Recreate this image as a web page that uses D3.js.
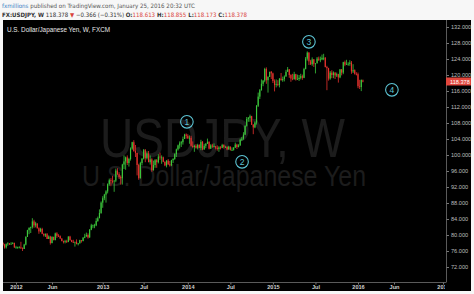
<!DOCTYPE html>
<html><head><meta charset="utf-8">
<script src="https://cdn.jsdelivr.net/npm/d3@7"></script>
<style>html,body{margin:0;padding:0;background:#f7f7f7;overflow:hidden} svg{display:block}</style>
</head><body><svg id="c" width="474" height="294"></svg>
<script>
// ---- DATA ----
const firstWeek = "2011-11-07";
const lastWeek = "2016-01-25";
const opens = [78.0,77.6,76.9,77.7,77.9,77.6,77.8,78.0,
76.9,76.9,76.9,76.9,76.7,76.5,77.6,79.5,81.2,81.8,82.0,83.4,
82.4,82.9,81.7,80.9,81.5,80.3,79.9,80.2,79.0,79.6,
78.0,79.5,78.7,80.4,79.8,79.7,79.1,78.5,78.3,78.5,
78.3,79.6,78.7,78.3,78.1,78.3,77.7,77.9,78.7,78.5,
79.3,79.6,80.0,79.4,81.3,82.4,82.4,82.4,83.5,84.2,85.5,
88.1,89.2,90.1,90.9,92.7,93.7,93.5,93.4,93.6,96.1,95.2,94.5,
94.2,97.6,98.4,99.4,98.0,99.0,101.6,103.2,101.0,100.5,97.5,94.2,98.0,
99.1,101.2,99.2,100.4,98.2,98.9,96.2,97.5,98.7,98.2,99.6,99.4,99.4,98.3,
97.4,98.6,97.7,97.4,98.7,99.0,100.2,101.4,102.4,102.9,103.2,104.0,105.1,
104.8,104.2,104.3,102.3,102.0,102.3,101.8,102.5,101.8,103.3,101.4,102.3,102.8,
103.3,101.6,102.4,102.1,102.2,101.8,101.5,101.9,101.8,102.5,102.0,102.0,101.4,
102.1,101.3,101.3,101.8,102.6,102.0,102.4,103.8,104.1,105.1,107.3,109.0,109.3,
109.7,107.6,106.9,108.1,112.3,114.6,116.2,117.8,118.6,121.5,118.7,119.5,120.8,
120.4,118.5,117.5,117.7,117.5,119.1,118.7,119.0,119.6,120.8,121.4,120.0,119.1,
119.0,120.2,118.9,119.0,119.3,119.7,119.3,121.5,124.1,125.6,123.4,122.7,123.9,
122.8,122.9,124.1,123.8,123.9,124.3,124.3,122.0,121.7,119.1,120.6,120.0,120.6,
119.9,120.2,119.4,121.4,120.6,123.2,122.6,122.8,122.8,123.1,120.9,121.2,120.3,
120.2,117.2,117.0,118.613];
const highs = [78.2,77.8,77.9,78.2,78.0,78.2,78.2,78.1,
77.3,77.1,77.2,78.3,76.9,77.8,79.7,81.3,81.9,82.1,84.2,83.8,
83.3,82.9,81.9,81.8,81.8,80.4,80.4,80.5,79.9,79.8,
79.7,79.6,80.6,80.7,80.2,79.9,79.2,78.6,78.8,78.8,
79.7,79.8,78.8,78.8,78.3,78.9,78.0,78.8,78.7,79.5,
80.3,80.6,80.4,81.5,82.8,82.6,82.8,84.2,84.6,86.4,88.4,
89.7,90.3,91.2,92.9,94.1,94.2,94.8,93.7,96.6,96.7,95.7,94.9,
97.8,99.9,99.6,99.9,99.3,101.9,103.3,103.7,102.5,100.6,97.8,98.3,99.2,
101.5,101.5,100.9,101.0,99.9,99.2,98.6,99.0,99.0,100.2,100.6,99.9,99.6,98.4,
98.7,99.0,98.5,98.8,99.2,100.4,101.6,102.6,103.4,103.5,104.6,105.3,105.4,
105.2,104.9,104.8,103.4,102.6,102.7,102.8,102.7,103.8,103.5,102.8,103.0,104.1,
103.4,102.7,102.8,102.9,102.2,102.4,102.2,102.2,102.8,102.7,102.3,102.2,102.3,
102.1,101.9,102.0,103.1,102.8,102.7,104.1,104.5,105.7,107.4,109.5,109.5,110.1,
109.8,107.7,108.4,112.5,115.6,116.5,118.9,118.7,121.8,121.9,119.7,120.8,121.0,
120.6,118.9,118.9,118.7,119.2,120.5,119.6,119.9,121.3,122.0,121.5,120.2,120.3,
120.8,120.3,120.1,120.0,120.3,120.1,121.8,124.5,125.9,125.7,123.8,124.4,124.0,
123.0,124.5,124.6,124.6,125.1,125.3,124.5,122.3,121.8,121.0,121.2,120.9,120.7,
120.6,120.3,121.5,121.5,123.3,123.6,123.8,123.2,123.7,123.5,122.7,121.4,120.7,
120.6,118.8,118.9,118.855];
const lows = [77.3,76.6,76.6,77.3,77.5,77.6,77.7,76.8,
76.6,76.6,76.7,76.5,76.0,76.5,77.4,79.5,80.2,80.5,81.6,81.8,
81.9,81.6,80.3,80.7,80.2,79.6,79.5,79.0,79.0,77.6,
77.9,78.7,78.7,79.3,79.5,79.1,78.4,77.9,77.9,78.0,
78.2,78.6,78.2,78.0,77.1,77.7,77.4,77.9,78.1,78.4,
79.2,79.6,79.1,79.3,81.2,81.7,81.7,82.2,83.3,84.2,85.3,
86.8,88.7,88.1,90.4,92.3,92.2,92.9,90.8,93.2,95.0,94.0,92.6,
92.6,96.5,96.3,97.5,97.1,98.6,101.3,100.8,99.5,94.9,93.8,94.1,97.4,
98.9,98.2,98.9,98.2,97.6,95.8,96.1,96.8,96.8,97.9,98.8,97.8,98.2,97.2,
96.9,97.5,97.1,97.2,98.0,98.8,99.5,101.1,101.6,102.0,102.6,104.0,104.1,
104.0,102.8,102.1,101.8,100.8,101.6,101.4,101.7,101.2,101.2,101.3,101.7,102.8,
101.4,101.5,101.8,101.9,101.4,101.1,100.8,101.4,101.7,101.6,101.8,101.2,101.3,
101.1,101.0,101.1,101.8,101.5,101.9,102.3,103.5,103.8,105.0,107.1,108.3,108.3,
107.5,105.2,106.7,107.6,112.0,114.0,116.1,117.2,118.2,117.8,115.6,119.5,119.0,
118.0,115.9,116.9,117.2,116.9,118.6,118.3,118.4,119.6,120.8,119.3,118.3,118.7,
118.8,118.6,118.8,118.5,118.9,118.8,119.2,121.4,123.6,122.5,122.5,122.3,122.0,
120.4,122.9,123.5,123.2,123.7,123.7,121.9,116.2,118.6,118.8,119.2,119.2,119.0,
119.5,118.1,119.2,119.9,120.2,122.2,122.5,122.3,122.3,120.3,120.5,120.1,119.9,
116.7,116.5,115.97,118.173];
const closes = [77.6,76.9,77.7,77.9,77.6,77.8,78.0,76.9,
76.9,76.9,76.9,76.7,76.5,77.6,79.5,81.2,81.8,82.0,83.4,82.4,
82.9,81.7,80.9,81.5,80.3,79.9,80.2,79.0,79.6,78.0,
79.5,78.7,80.4,79.8,79.7,79.1,78.5,78.3,78.5,78.3,
79.6,78.7,78.3,78.1,78.3,77.7,77.9,78.7,78.5,79.3,
79.6,80.0,79.4,81.3,82.4,82.4,82.4,83.5,84.2,85.5,88.1,
89.2,90.1,90.9,92.7,93.7,93.5,93.4,93.6,96.1,95.2,94.5,94.2,
97.6,98.4,99.4,98.0,99.0,101.6,103.2,101.0,100.5,97.5,94.2,98.0,99.1,
101.2,99.2,100.4,98.2,98.9,96.2,97.5,98.7,98.2,99.6,99.4,99.4,98.3,97.4,
98.6,97.7,97.4,98.7,99.0,100.2,101.4,102.4,102.9,103.2,104.0,105.1,104.8,
104.2,104.3,102.3,102.0,102.3,101.8,102.5,101.8,103.3,101.4,102.3,102.8,103.3,
101.6,102.4,102.1,102.2,101.8,101.5,101.9,101.8,102.5,102.0,102.0,101.4,102.1,
101.3,101.3,101.8,102.6,102.0,102.4,103.8,104.1,105.1,107.3,109.0,109.3,109.7,
107.6,106.9,108.1,112.3,114.6,116.2,117.8,118.6,121.5,118.7,119.5,120.8,120.4,
118.5,117.5,117.7,117.5,119.1,118.7,119.0,119.6,120.8,121.4,120.0,119.1,119.0,
120.2,118.9,119.0,119.3,119.7,119.3,121.5,124.1,125.6,123.4,122.7,123.9,122.8,
122.9,124.1,123.8,123.9,124.3,124.3,122.0,121.7,119.1,120.6,120.0,120.6,119.9,
120.2,119.4,121.4,120.6,123.2,122.6,122.8,122.8,123.1,120.9,121.2,120.3,120.2,
117.2,117.0,118.744,118.378];

const priceTicks = [72,76,80,84,88,92,96,100,104,108,112,116,120,124,128,132];
const timeTickDates = ["2012-01-02","2012-06-04","2013-01-07","2013-07-01","2014-01-06","2014-07-07","2015-01-05","2015-07-06","2016-01-04","2016-06-06","2017-01-02"];
const timeTickLabels = ["2012","Jun","2013","Jul","2014","Jul","2015","Jul","2016","Jun","2017"];
const waveLabels = ["1","2","3","4"];
const waveDates = ["2014-01-02","2014-08-26","2015-06-08","2016-05-28"];
const wavePrices = [108.3,98.3,128.3,116.3];
const lastPrice = 118.378;

// ---- CHART ----
const parse = d3.timeParse("%Y-%m-%d");
const svg = d3.select("#c");
const W = 474, H = 294;
const plot = {l:3, t:20, r:446, b:282};

svg.append("rect").attr("x",0).attr("y",0).attr("width",W).attr("height",H).attr("fill","#f7f7f7");
svg.append("rect").attr("x",3).attr("y",20).attr("width",468).attr("height",271).attr("fill","#000");

const defs = svg.append("defs");
defs.append("clipPath").attr("id","pc").append("rect")
  .attr("x",plot.l).attr("y",plot.t).attr("width",plot.r-plot.l).attr("height",plot.b-plot.t);
defs.append("clipPath").attr("id","xc").append("rect")
  .attr("x",0).attr("y",plot.b).attr("width",plot.r-1).attr("height",14);

const x = d3.scaleTime().domain([parse("2012-01-02"), parse("2016-01-04")]).range([16, 358]);
const y = d3.scaleLinear().domain([72,132]).range([267,27]);

const weeks = d3.timeMonday.range(parse(firstWeek), d3.timeDay.offset(parse(lastWeek),1));
const n = Math.min(weeks.length, opens.length, highs.length, lows.length, closes.length);
const bars = d3.range(n).map(i => ({d:weeks[i], o:opens[i], h:highs[i], l:lows[i], c:closes[i]}));

const g = svg.append("g").attr("clip-path","url(#pc)");

// watermark
g.append("text").attr("x",100).attr("y",157).attr("textLength",245).attr("lengthAdjust","spacingAndGlyphs")
  .attr("font-family","Liberation Sans, Arial, sans-serif").attr("font-size",55).attr("fill","#1c1c1c")
  .text("USDJPY, W");
g.append("text").attr("x",82).attr("y",186).attr("textLength",284).attr("lengthAdjust","spacingAndGlyphs")
  .attr("font-family","Liberation Sans, Arial, sans-serif").attr("font-size",29).attr("fill","#1c1c1c")
  .text("U.S. Dollar/Japanese Yen");

const up = "#3cc83c", dn = "#e8322e";
const bw = 1.15;
const cg = g.append("g");
cg.selectAll("line").data(bars).join("line")
  .attr("x1", d => x(d.d)).attr("x2", d => x(d.d))
  .attr("y1", d => y(d.h)).attr("y2", d => y(d.l))
  .attr("stroke", d => d.c >= d.o ? up : dn).attr("stroke-width", 0.8);
cg.selectAll("rect").data(bars).join("rect")
  .attr("x", d => x(d.d) - bw/2).attr("width", bw)
  .attr("y", d => y(Math.max(d.o,d.c)))
  .attr("height", d => Math.max(0.8, Math.abs(y(d.o)-y(d.c))))
  .attr("fill", d => d.c >= d.o ? up : dn);

// wave labels
const wg = g.append("g");
waveLabels.forEach((lab,i) => {
  const cx = x(parse(waveDates[i])), cy = y(wavePrices[i]);
  wg.append("circle").attr("cx",cx).attr("cy",cy).attr("r",6.3)
    .attr("fill","none").attr("stroke","#5cc3d3").attr("stroke-width",1.1);
  wg.append("text").attr("x",cx).attr("y",cy).attr("dy","0.36em").attr("text-anchor","middle")
    .attr("font-family","Liberation Sans, Arial, sans-serif").attr("font-size",8.5).attr("fill","#5cc3d3")
    .text(lab);
});

// chart title
svg.append("text").attr("x",7).attr("y",31.5).attr("textLength",103).attr("lengthAdjust","spacingAndGlyphs")
  .attr("font-family","Liberation Sans, Arial, sans-serif").attr("font-size",6.6).attr("fill","#e8e8e8")
  .text("U.S. Dollar/Japanese Yen, W, FXCM");

// borders
svg.append("line").attr("x1",plot.r+0.5).attr("x2",plot.r+0.5).attr("y1",plot.t).attr("y2",plot.b)
  .attr("stroke","#5a5a5a").attr("stroke-width",1);
svg.append("line").attr("x1",plot.l).attr("x2",plot.r+0.5).attr("y1",plot.b+0.5).attr("y2",plot.b+0.5)
  .attr("stroke","#5a5a5a").attr("stroke-width",1);

// right axis
const ya = svg.append("g").attr("transform",`translate(${plot.r+0.5},0)`)
  .call(d3.axisRight(y).tickValues(priceTicks).tickFormat(d3.format(".3f")).tickSize(2.5).tickPadding(2));
ya.select(".domain").remove();
ya.selectAll("line").attr("stroke","#777");
ya.selectAll("text").attr("font-family","Liberation Sans, Arial, sans-serif").attr("font-size",5.6).attr("fill","#bdbdbd");

// bottom axis
const xa = svg.append("g").attr("clip-path","url(#xc)").append("g").attr("transform",`translate(0,${plot.b+0.5})`)
  .call(d3.axisBottom(x).tickValues(timeTickDates.map(parse)).tickFormat((d,i) => timeTickLabels[i]).tickSize(2).tickPadding(1));
xa.select(".domain").remove();
xa.selectAll("line").attr("stroke","#777");
xa.selectAll("text").attr("font-family","Liberation Sans, Arial, sans-serif").attr("font-size",5.6)
  .attr("font-weight","bold").attr("fill","#d0d0d0");

// last price tag
const ly = y(lastPrice);
svg.append("rect").attr("x",446).attr("y",ly-4).attr("width",25).attr("height",8).attr("fill","#e2463c");
svg.append("text").attr("x",450).attr("y",ly).attr("dy","0.36em")
  .attr("font-family","Liberation Sans, Arial, sans-serif").attr("font-size",5.6).attr("fill","#fff")
  .text(d3.format(".3f")(lastPrice));

// header
const h1 = svg.append("text").attr("x",2).attr("y",8).attr("textLength",193).attr("lengthAdjust","spacingAndGlyphs")
  .attr("font-family","DejaVu Sans, Verdana, sans-serif").attr("font-size",6);
h1.append("tspan").attr("fill","#3b7fc4").text("fxmillions");
h1.append("tspan").attr("fill","#555").text(" published on TradingView.com, January 25, 2016 20:32 UTC");

const h2 = svg.append("text").attr("x",2).attr("y",17.3).attr("textLength",245).attr("lengthAdjust","spacingAndGlyphs")
  .attr("font-family","DejaVu Sans, Verdana, sans-serif").attr("font-size",6);
const red = "#d9433b", dark = "#333";
[["FX:USDJPY, W",dark,"bold"],[" 118.378 ",dark,"normal"],["\u25BC",red,"normal"],[" \u22120.366 (\u22120.31%) ",dark,"normal"],
 ["O:",dark,"bold"],["118.613",red,"normal"],[" H:",dark,"bold"],["118.855",red,"normal"],
 [" L:",dark,"bold"],["118.173",red,"normal"],[" C:",dark,"bold"],["118.378",red,"normal"]]
 .forEach(([t,c,w]) => h2.append("tspan").attr("fill",c).attr("font-weight",w).text(t));
</script></body></html>
